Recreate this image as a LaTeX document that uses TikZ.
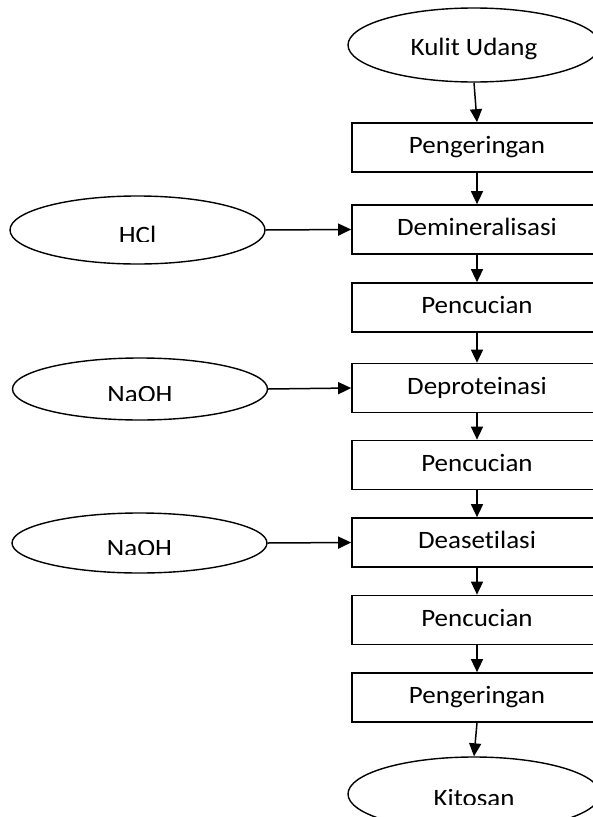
\documentclass[tikz,border=0pt]{standalone}
\usepackage{fontspec}
\setmainfont{Carlito}[FakeStretch=1.08, Ligatures=NoCommon]
\usepackage{trimclip}
\usetikzlibrary{arrows.meta,shapes.geometric}

% text cut off at its foot, as in the source drawing
\newcommand{\cutlabel}[1]{\clipbox{0pt 2.5pt 0pt 0pt}{#1}}

\begin{document}
\begin{tikzpicture}[x=1pt, y=-1pt,
  every node/.style={font=\fontsize{25}{30}\selectfont, text height=17pt, text depth=5pt},
  stepbox/.style={draw, line width=1.7pt, minimum width=250pt, minimum height=49pt,
                  inner sep=0pt, align=center},
  ends/.style   ={draw, ellipse, line width=1.4pt, minimum width=252pt,
                  minimum height=74pt, inner sep=0pt, text height=20pt, text depth=0pt},
  agent/.style  ={draw, ellipse, line width=1.4pt, minimum width=255pt,
                  minimum height=64pt, inner sep=0pt, text height=22pt, text depth=0pt},
  arr/.style    ={-{Triangle[length=13pt, width=12pt]}, line width=1.5pt}]

\useasboundingbox (0,0) rectangle (593,817);

%% ── Main column ──────────────────────────────────────────────────
\node[ends]    (udang)  at (474, 45)    {Kulit Udang};
\node[stepbox] (kering) at (477, 147.5) {Pengeringan};
\node[stepbox] (demin)  at (477, 229.5) {Demineralisasi};
\node[stepbox] (cuci)   at (477, 307.5) {Pencucian};
\node[stepbox] (depro)  at (477, 388)   {Deproteinasi};
\node[stepbox] (cucii)  at (477, 465)   {Pencucian};
\node[stepbox] (dease)  at (477, 542.5) {Deasetilasi};
\node[stepbox] (cuciii) at (477, 620)   {Pencucian};
\node[stepbox] (keringb) at (477, 697.5) {Pengeringan};
\node[ends]    (kitosan) at (474, 794)  {\cutlabel{Kitosan}};

%% ── Reagents ─────────────────────────────────────────────────────
\node[agent, minimum height=68pt] (hcl)   at (137.5, 230) {\cutlabel{HCl}};
\node[agent, minimum height=62pt] (naoha) at (140, 389)   {\cutlabel{NaOH}};
\node[agent, minimum height=60pt] (naohb) at (139.5, 543) {\cutlabel{NaOH}};

%% ── Arrows: down the column ──────────────────────────────────────
\draw[arr] (udang.south)  -- (kering.north);
\draw[arr] (kering.south) -- (demin.north);
\draw[arr] (demin.south)  -- (cuci.north);
\draw[arr] (cuci.south)   -- (depro.north);
\draw[arr] (depro.south)  -- (cucii.north);
\draw[arr] (cucii.south)  -- (dease.north);
\draw[arr] (dease.south)  -- (cuciii.north);
\draw[arr] (cuciii.south) -- (keringb.north);
\draw[arr] (keringb.south) -- (kitosan.north);

%% ── Arrows: reagents in ──────────────────────────────────────────
\draw[arr] (hcl.east)   -- (demin.west);
\draw[arr] (naoha.east) -- (depro.west);
\draw[arr] (naohb.east) -- (dease.west);
\end{tikzpicture}
\end{document}
